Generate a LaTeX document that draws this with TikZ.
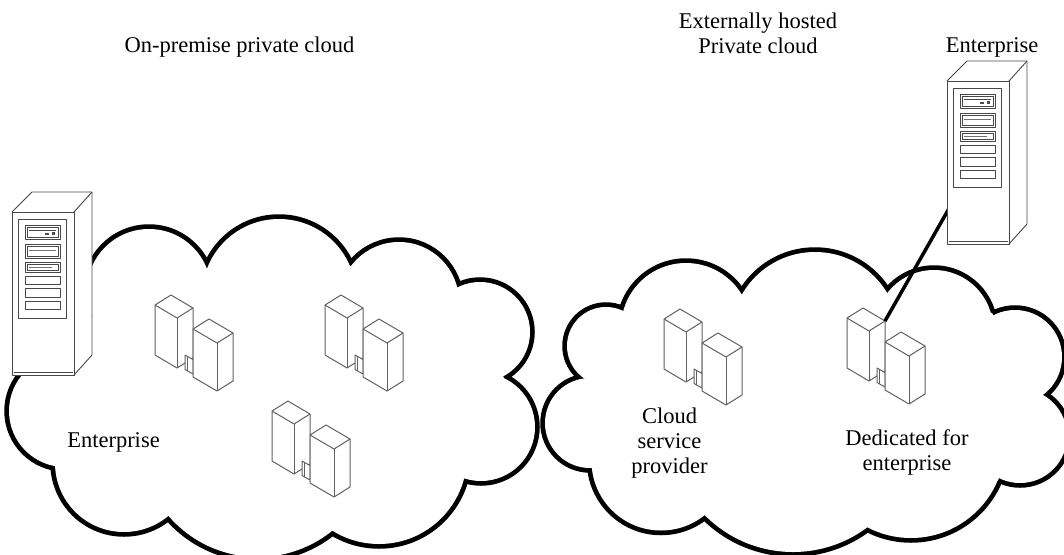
\documentclass[tikz,border=0pt]{standalone}
\usepackage{fontspec}
\setmainfont{Liberation Serif}
\begin{document}
\begin{tikzpicture}[x=1pt,y=-1pt,
  cloudline/.style={line width=9.5pt,draw=black},
  bld/.style={draw=black!62,line width=1pt,line join=round},
  srv/.style={draw=black!72,line width=0.9pt,line join=round},
  lbl/.style={font=\fontsize{22.5}{25}\selectfont,inner sep=0pt},
  link/.style={line width=3.5pt,draw=black},
  % isometric pair of office blocks; origin = left corner of the rear roof
  pics/bldg/.style={code={
    \filldraw[bld,fill=white] (0,0) -- (16,-10) -- (38,3) -- (38,53) -- (22,63) -- (0,50) -- cycle;
    \draw[bld] (0,0) -- (22,13) -- (38,3);
    \draw[bld] (22,13) -- (22,63);
    \filldraw[bld,fill=white] (30,50) -- (38,54.5) -- (38,69) -- (30,64.5) -- cycle;
    \draw[bld] (32.5,52) -- (32.5,66);
    \filldraw[bld,fill=white] (38,24) -- (54,14) -- (78,28) -- (78,76) -- (62,86) -- (38,72) -- cycle;
    \draw[bld] (38,24) -- (62,38) -- (78,28);
    \draw[bld] (62,38) -- (62,86);
    \coordinate (-roof) at (38,3);
  }},
  % tower server; origin = top left corner of the front face
  pics/tower/.style={code={
    \fill[white] (0,0) -- (20,-20) -- (80,-20) -- (80,143) -- (62,163) -- (0,163) -- cycle;
    \draw[srv] (0,0) -- (20,-20) -- (80,-20) -- (80,143) -- (62,163);
    \draw[srv] (62,0) -- (80,-20);
    \draw[srv] (0,0) rectangle (62,163);
    \draw[srv] (1.5,160) -- (60.5,160);
    \draw[srv] (6,7) rectangle (54,106);
    % drive bays
    \draw[srv,line width=0.7pt] (13,13) rectangle (48,27);
    \draw[srv,line width=0.6pt] (15,15) rectangle (46,25);
    \draw[srv,line width=0.6pt] (17,18.5) -- (44,18.5);
    \fill[black!70] (33,20.5) rectangle (37,22.5);
    \fill[black!70] (40,20) rectangle (43,23);
    \draw[srv,line width=0.7pt] (13,32) rectangle (48,46);
    \draw[srv,line width=0.6pt] (15,34) rectangle (46,44);
    \draw[line width=1.3pt,black!55] (17,38.5) -- (44,38.5);
    \draw[srv,line width=0.7pt] (13,50) rectangle (48,60);
    \draw[srv,line width=0.6pt] (15,52) rectangle (46,58);
    \draw[line width=1pt,black!55] (17,55) -- (40,55);
    \draw[srv,line width=0.7pt] (13,64) rectangle (48,72);
    \draw[srv,line width=0.7pt] (13,76) rectangle (48,85);
    \draw[srv,line width=0.7pt] (13,89) rectangle (48,97);
    \coordinate (-port) at (2,132);
  }}]
\useasboundingbox (0,0) rectangle (1064,554);
\clip (0,0) rectangle (1064,554);

% clouds as unions of circles: thick outlines first, then white interiors
\def\leftcloud{149/291/62, 279/296/77, 399/302/60, 480/332/50, 481/427/54,
  379/456/88, 258/439/118, 124/463/69, 65/411/56}
\def\rightcloud{606/346/39, 590/423/45, 661/461/69.5, 793/428/124, 911/444/94,
  1020/436/47, 1015/357/47, 934/329/59, 815/336/84, 686/328/65}
\foreach \cx/\cy/\r in \leftcloud {\draw[cloudline] (\cx,\cy) circle[radius=\r];}
\foreach \cx/\cy/\r in \rightcloud {\draw[cloudline] (\cx,\cy) circle[radius=\r];}
\foreach \cx/\cy/\r in \leftcloud {\fill[white] (\cx,\cy) circle[radius=\r];}
\foreach \cx/\cy/\r in \rightcloud {\fill[white] (\cx,\cy) circle[radius=\r];}
\fill[white] (60,330) -- (207,269) -- (351,266) -- (457,287) -- (504,378)
  -- (464,478) -- (332,530) -- (169,516) -- (56,462) -- cycle;
\fill[white] (593,380) -- (623,312) -- (742,295) -- (887,293) -- (992,313)
  -- (1040,393) -- (998,480) -- (868,527) -- (705,515) -- (592,467) -- cycle;

% data centres
\pic (b1) at (155,305) {bldg};
\pic (b2) at (325,305) {bldg};
\pic (b3) at (272,411) {bldg};
\pic (b4) at (664,319) {bldg};
\pic (b5) at (847,318) {bldg};

% link from the enterprise server to its dedicated data centre
\draw[link] (b5-roof) -- (947,212) -- ++(6,-11);

% enterprise servers
\pic (srv1) at (12,212) {tower};
\pic (srv2) at (947,81) {tower};

% labels
\node[lbl,anchor=base] (t-onprem) at (239.5,52) {On-premise private cloud};
\node[lbl,anchor=north,align=center] (t-ext) at (758,12.5) {Externally hosted\\Private cloud};
\node[lbl,anchor=base] (t-ent2) at (992,52) {Enterprise};
\node[lbl,anchor=base] (t-ent1) at (113.5,447) {Enterprise};
\node[lbl,anchor=north,align=center] (t-csp) at (669.5,408) {Cloud\\service\\provider};
\node[lbl,anchor=north,align=center] (t-ded) at (907,429.5) {Dedicated for\\enterprise};
\end{tikzpicture}
\end{document}
